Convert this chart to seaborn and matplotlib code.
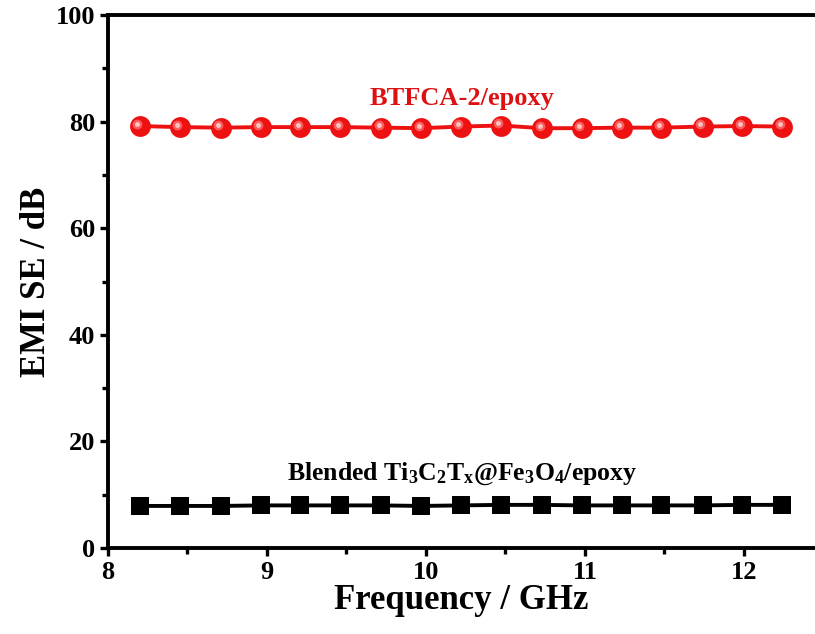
import matplotlib
matplotlib.use('Agg')
import matplotlib.pyplot as plt
import matplotlib.transforms as mtransforms
from matplotlib.ticker import MultipleLocator, AutoMinorLocator
import seaborn as sns

freq = [8.2, 8.45, 8.71, 8.96, 9.21, 9.46, 9.72, 9.97, 10.22,
        10.47, 10.73, 10.98, 11.23, 11.48, 11.74, 11.99, 12.24]
btfca = [79.2, 79.0, 78.9, 79.0, 79.0, 79.0, 78.9, 78.8, 79.1,
         79.3, 78.8, 78.8, 78.9, 78.9, 79.1, 79.2, 79.1]
blended = [7.9, 7.9, 7.9, 8.0, 8.0, 8.0, 8.0, 7.9, 8.0,
           8.1, 8.1, 8.0, 8.0, 8.0, 8.0, 8.1, 8.1]

sns.set_style('ticks')
plt.rcParams['font.family'] = ['Liberation Serif', 'DejaVu Serif']
plt.rcParams['font.weight'] = 'bold'
plt.rcParams['text.color'] = 'black'
plt.rcParams['axes.labelcolor'] = 'black'
plt.rcParams['xtick.labelcolor'] = 'black'
plt.rcParams['ytick.labelcolor'] = 'black'
plt.rcParams['mathtext.fontset'] = 'custom'
plt.rcParams['mathtext.rm'] = 'Liberation Serif:bold'
plt.rcParams['mathtext.it'] = 'Liberation Serif:bold'
plt.rcParams['mathtext.bf'] = 'Liberation Serif:bold'

fig = plt.figure(figsize=(8.15, 6.34), dpi=100)
ax = fig.add_axes([0.1325, 0.1356, 0.8675, 0.8404])

sns.lineplot(x=freq, y=btfca, ax=ax, color='#ee1111', linewidth=2.8,
             marker='o', markersize=15, markeredgewidth=0, zorder=3)
# soft sphere highlight
hl = mtransforms.offset_copy(ax.transData, fig=fig, x=-1.8, y=1.8, units='points')
ax.plot(freq, btfca, linestyle='none', marker='o', markersize=7,
        color='#ff7070', markeredgewidth=0, transform=hl, zorder=4, alpha=0.8)
ax.plot(freq, btfca, linestyle='none', marker='o', markersize=3.5,
        color='#ffd0d0', markeredgewidth=0, transform=hl, zorder=5, alpha=0.9)

sns.lineplot(x=freq, y=blended, ax=ax, color='black', linewidth=2.8,
             marker='s', markersize=13.5, markeredgewidth=0, zorder=3)

ax.text(10.23, 84.4, 'BTFCA-2/epoxy', color='#dd1111', fontsize=19,
        fontweight='bold', ha='center', va='center')
ax.text(10.23, 14.0, r'Blended Ti$_3$C$_2$T$_x$@Fe$_3$O$_4$/epoxy', color='black',
        fontsize=18.5, fontweight='bold', ha='center', va='center')

ax.set_xlim(8, 12.447)
ax.set_ylim(0, 100)
ax.xaxis.set_major_locator(MultipleLocator(1))
ax.yaxis.set_major_locator(MultipleLocator(20))
ax.xaxis.set_minor_locator(AutoMinorLocator(2))
ax.yaxis.set_minor_locator(AutoMinorLocator(2))

ax.set_xlabel('Frequency / GHz', fontsize=25, fontweight='bold', labelpad=0)
ax.set_ylabel('EMI SE / dB', fontsize=25, fontweight='bold', labelpad=2)

for s in ['left', 'bottom', 'top']:
    ax.spines[s].set_linewidth(2.8)
    ax.spines[s].set_color('black')
ax.spines['right'].set_visible(False)

ax.tick_params(which='major', direction='out', length=6, width=2.4,
               labelsize=19, color='black', labelcolor='black', pad=3)
ax.tick_params(which='minor', direction='out', length=4, width=2.4, color='black')
ax.tick_params(top=False, right=False)
for lab in ax.get_xticklabels() + ax.get_yticklabels():
    lab.set_fontweight('bold')

fig.savefig('out.png', dpi=100)
